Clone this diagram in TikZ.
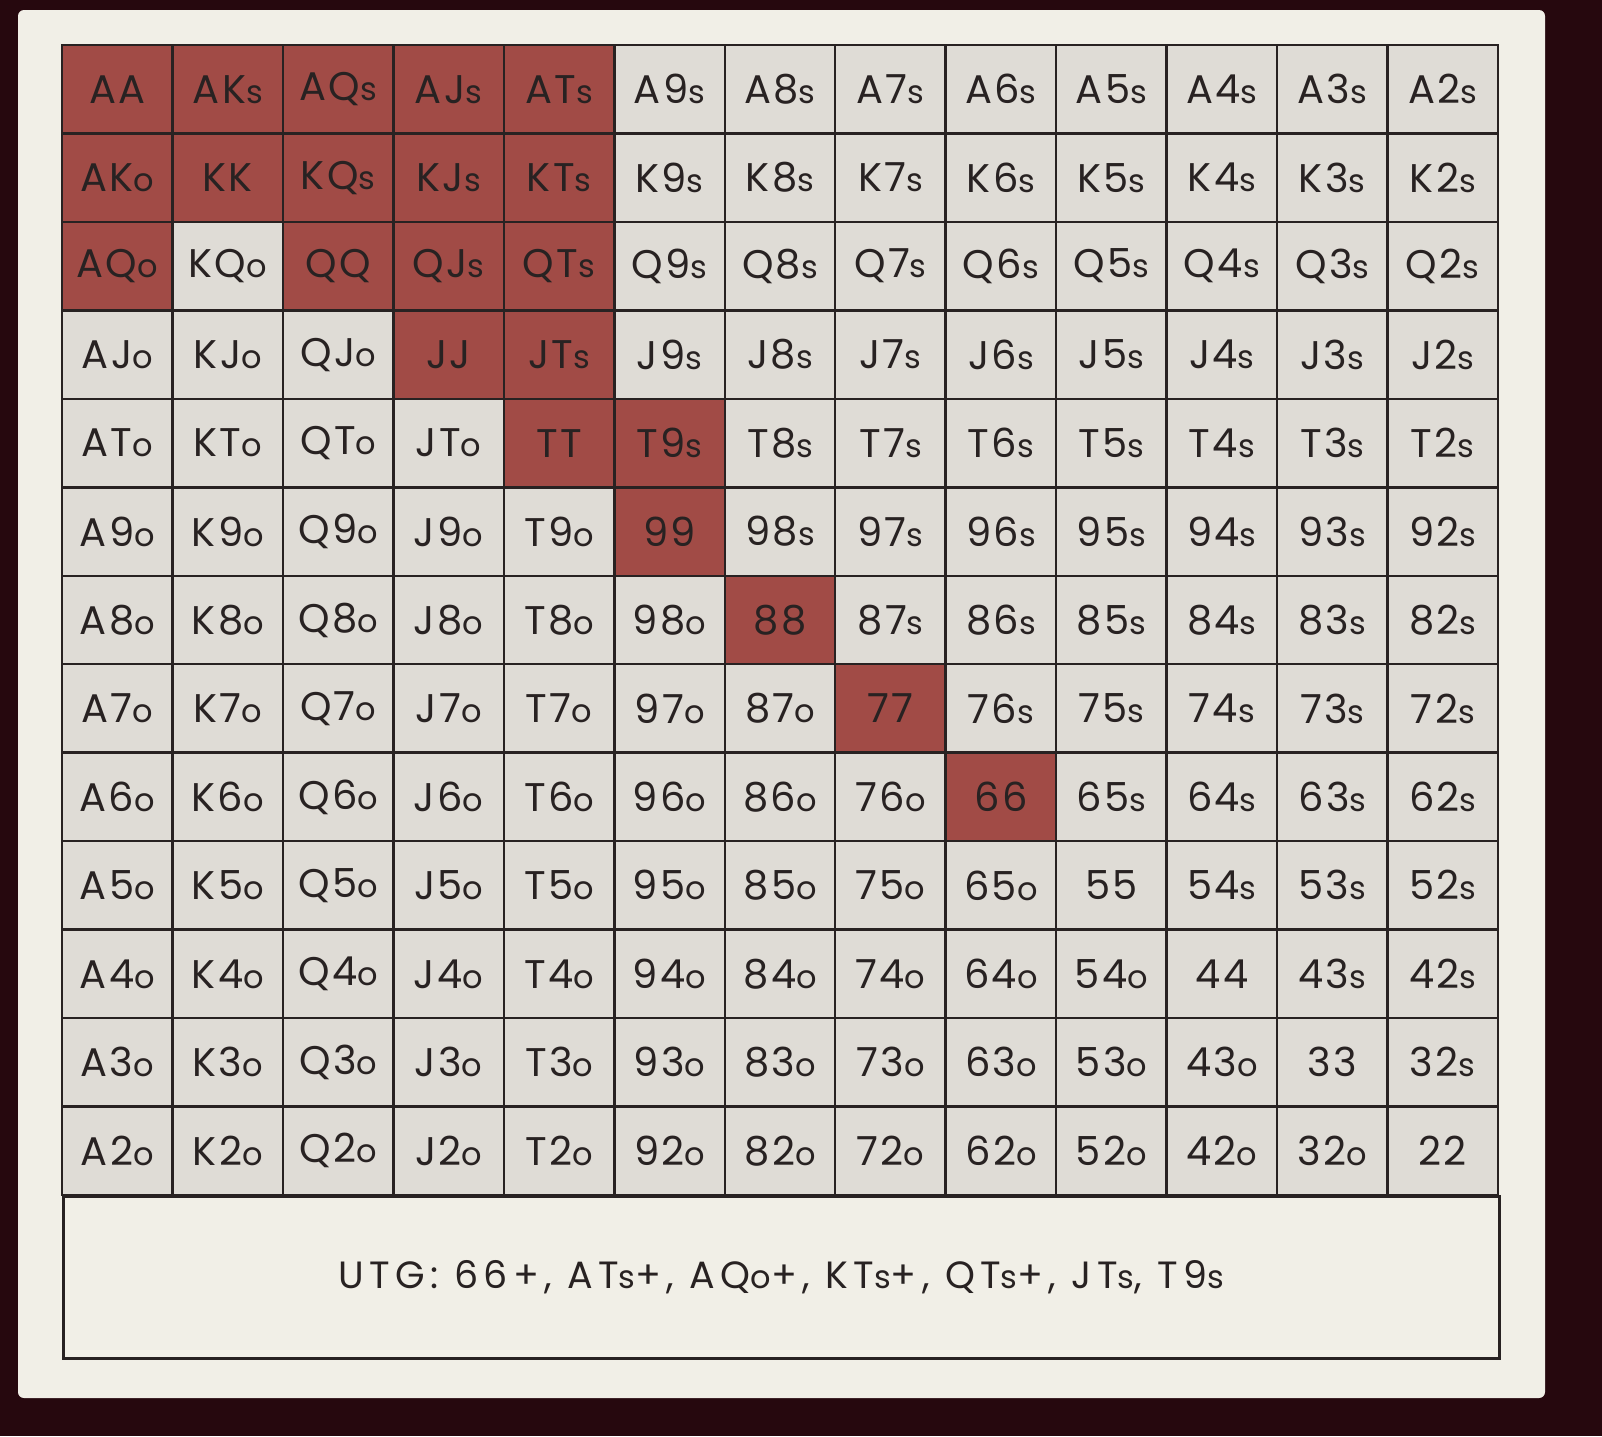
\documentclass[tikz,border=0pt]{standalone}
\usepackage{fontspec}
\setmainfont{Poppins}
\newfontfamily\cellfont[LetterSpace=6]{Poppins}
\newfontfamily\utgfont[LetterSpace=14]{Poppins}
\usetikzlibrary{positioning}
\definecolor{bgdark}{RGB}{38,8,14}
\definecolor{panel}{RGB}{241,239,231}
\definecolor{cellgray}{RGB}{223,220,214}
\definecolor{cellred}{RGB}{161,75,70}
\definecolor{ink}{RGB}{40,34,34}
\newcommand\sfx[1]{{\fontsize{32}{32}\selectfont #1}}
\tikzset{
  cell/.style={draw=ink, line width=2.5pt, minimum width=110.46pt, minimum height=88.46pt,
    inner sep=0pt, text=ink, font=\cellfont\fontsize{40}{40}\selectfont},
  legendbox/.style={draw=ink, line width=3pt, minimum width=1436pt, minimum height=162pt,
    inner sep=0pt, text=ink, font=\utgfont\fontsize{38}{38}\selectfont}
}
\begin{document}
\begin{tikzpicture}[x=1pt,y=-1pt]
  \useasboundingbox (0,0) rectangle (1602,1436);
  \fill[bgdark] (0,0) rectangle (1602,1436);
  \fill[panel, rounded corners=6pt] (18,10) rectangle (1545,1398);
  % range chart
  \foreach \r [count=\i from 0] in {A,K,Q,J,T,9,8,7,6,5,4,3,2}{
    \foreach \c [count=\j from 0] in {A,K,Q,J,T,9,8,7,6,5,4,3,2}{
      \def\fillc{cellgray}
      \ifnum\i=\j
        \def\lbl{\r\r}\ifnum\i<9 \def\fillc{cellred}\fi
      \else\ifnum\i<\j
        \def\lbl{\r\c\sfx{s}}
        \ifnum\j<5 \def\fillc{cellred}\fi
        \ifnum\i=4 \ifnum\j=5 \def\fillc{cellred}\fi\fi
      \else
        \def\lbl{\c\r\sfx{o}}
        \ifnum\j=0 \ifnum\i<3 \def\fillc{cellred}\fi\fi
      \fi\fi
      \node[cell, fill=\fillc] (H-\i-\j) at ({62+110.46*(\j+0.5)},{45+88.46*(\i+0.5)}) {\lbl};
    }
  }
  \node[legendbox, anchor=north west] (legend) at (62,1195)
    {UTG: 66+, AT\sfx{s}+, AQ\sfx{o}+, KT\sfx{s}+, QT\sfx{s}+, JT\sfx{s}, T9\sfx{s}};
\end{tikzpicture}
\end{document}
